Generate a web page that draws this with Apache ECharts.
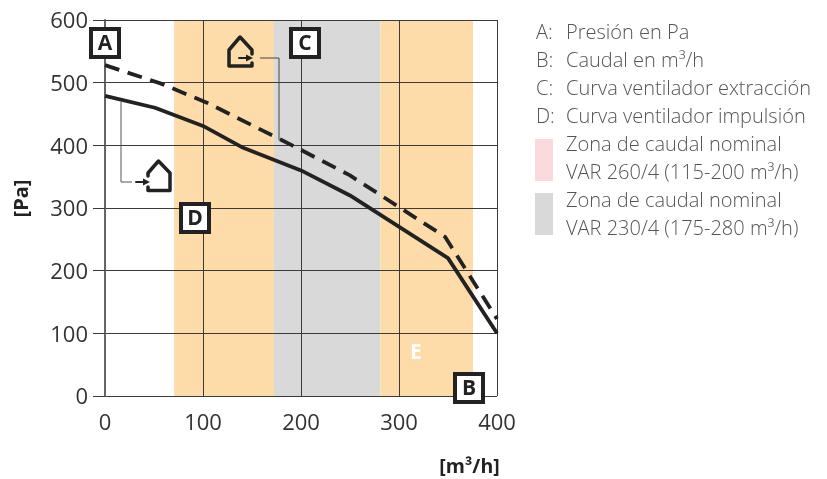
<!DOCTYPE html>
<html><head><meta charset="utf-8">
<style>html,body{margin:0;padding:0;background:#fff}#c{width:827px;height:479px}</style>
<script src="https://cdn.jsdelivr.net/npm/echarts@6/dist/echarts.min.js"></script>
</head><body><div id="c"></div>
<script>
const xTicks = [0,100,200,300,400];
const yTicks = [0,100,200,300,400,500,600];
const impulsion = [[0,479],[51,460],[100,431],[141,396],[200,360],[250,320],[350,220],[400,100]];
const extraccion = [[0,528],[58,498],[104,468],[191,400],[250,352],[347,254],[400,123]];
const bands = [[70.5,172.5,'#fddcaa'],[172.5,281,'#d9d9d9'],[281,375.5,'#fddcaa']];
const legendLines = ['A:','B:','C:','D:'];
const legendTexts = ['Presión en Pa','Caudal en m³/h','Curva ventilador extracción','Curva ventilador impulsión',
  'Zona de caudal nominal','VAR 260/4 (115-200 m³/h)','Zona de caudal nominal','VAR 230/4 (175-280 m³/h)'];
const swatchColors = ['#fbdadd','#d9d9d9'];
const ink = '#222222';
const font = 'Open Sans';

function box(cx, cy, t){
  return [
    {type:'rect',z:20,shape:{x:cx-14,y:cy-14,width:28,height:28},style:{fill:'#fff',stroke:ink,lineWidth:4}},
    {type:'text',z:21,style:{x:cx,y:cy+1,text:t,fontFamily:font,fontWeight:700,fontSize:21,fill:ink,align:'center',verticalAlign:'middle'}}
  ];
}
function pl(points, w, extra){
  return Object.assign({type:'polyline',z:15,shape:{points},style:{fill:'none',stroke:ink,lineWidth:w,lineJoin:'round',lineCap:'round'}},extra||{});
}
const g = [];
g.push(...box(105,43,'A'),...box(305,43,'C'),...box(195,218,'D'),...box(469,388,'B'));
g.push({type:'text',z:14,style:{x:416,y:353,text:'E',fontFamily:font,fontWeight:700,fontSize:21,fill:'#fff',align:'center',verticalAlign:'middle'}});
g.push(pl([[148,176],[148,173],[158.5,161],[170,173],[170,190.5],[148,190.5],[148,187]],3.5));
g.push(pl([[121,102],[121,182],[132,182]],1,{style:{fill:'none',stroke:'#555',lineWidth:1}}));
g.push(pl([[136,182],[146,182]],2));
g.push({type:'polygon',z:16,shape:{points:[[143,178.5],[150,182],[143,185.5]]},style:{fill:ink}});
g.push(pl([[252,54],[252,50],[240,37],[229,50],[229,66],[252,66],[252,63]],3.5));
g.push(pl([[260,58],[279,58],[279,140]],1,{style:{fill:'none',stroke:'#444',lineWidth:1}}));
g.push(pl([[239,58],[249,58]],2));
g.push({type:'polygon',z:16,shape:{points:[[246,54.5],[253,58],[246,61.5]]},style:{fill:ink}});
g.push({type:'text',style:{x:469.5,y:467,text:'[m³/h]',fontFamily:font,fontWeight:700,fontSize:19.5,fill:ink,align:'center',verticalAlign:'middle'}});
g.push({type:'text',rotation:Math.PI/2,x:22,y:198.5,style:{x:0,y:0,text:'[Pa]',fontFamily:font,fontWeight:700,fontSize:20,fill:ink,align:'center',verticalAlign:'middle'}});
const legY = [33,61,89,117,145,173,201,229];
legendTexts.forEach((t,i)=>{
  g.push({type:'text',style:{x:566,y:legY[i],text:t,fontFamily:font,fontWeight:300,fontSize:20,fill:'#555',align:'left',verticalAlign:'middle'}});
  if(i<4) g.push({type:'text',style:{x:536,y:legY[i],text:legendLines[i],fontFamily:font,fontWeight:300,fontSize:20,fill:'#555',align:'left',verticalAlign:'middle'}});
});
g.push({type:'rect',shape:{x:535,y:139,width:18,height:42},style:{fill:swatchColors[0]}});
g.push({type:'rect',shape:{x:535,y:193,width:18,height:42},style:{fill:swatchColors[1]}});

const chart = echarts.init(document.getElementById('c'),null,{renderer:'canvas'});
chart.setOption({
  animation:false,
  backgroundColor:'#fff',
  grid:{left:105,top:20,width:392,height:376},
  xAxis:{type:'value',min:0,max:400,interval:100,z:2,
    axisLine:{show:false},axisTick:{show:false},
    axisLabel:{fontFamily:font,fontSize:22,color:'#333',margin:17,showMinLabel:true,showMaxLabel:true,hideOverlap:false},
    splitLine:{show:true,lineStyle:{color:'#3a3a3a',width:1}}},
  yAxis:{type:'value',min:0,max:600,interval:100,z:2,
    axisLine:{show:true,lineStyle:{color:'#666',width:2}},
    axisTick:{show:true,length:12,lineStyle:{color:'#3a3a3a',width:1}},
    axisLabel:{fontFamily:font,fontSize:22,color:'#333',margin:17,verticalAlign:'top',lineHeight:4},
    splitLine:{show:true,lineStyle:{color:'#3a3a3a',width:1}}},
  graphic:g,
  series:[
    {type:'custom',z:1,silent:true,data:bands,encode:{x:[0,1]},
     renderItem:(p,api)=>{
       const a=api.coord([api.value(0),600]), b=api.coord([api.value(1),0]);
       return {type:'rect',shape:{x:a[0],y:a[1],width:b[0]-a[0],height:b[1]-a[1]},style:{fill:bands[p.dataIndex][2]}};
     }},
    {type:'line',name:'Curva ventilador extracción',z:3,data:extraccion,showSymbol:false,symbol:'none',clip:false,
     lineStyle:{color:ink,width:3.8,type:[15,8.8]}},
    {type:'line',name:'Curva ventilador impulsión',z:3,data:impulsion,showSymbol:false,symbol:'none',clip:false,
     lineStyle:{color:ink,width:3.8}}
  ]
});
</script></body></html>
